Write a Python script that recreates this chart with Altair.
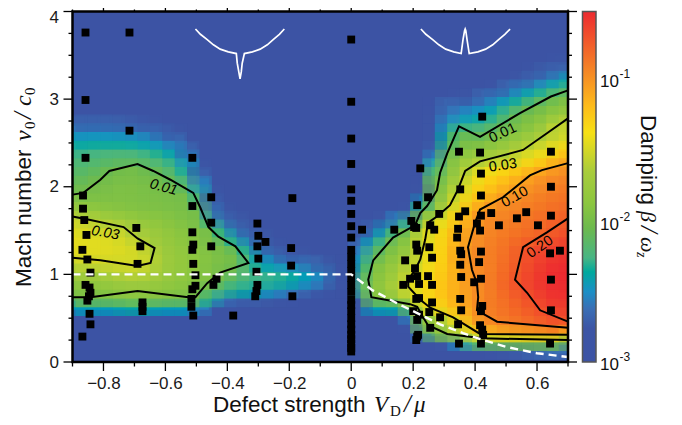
import altair as alt
import pandas as pd

# ---------- damping grid: level v means beta = 1e-3 * 10^(v/100) ----------
# rows keyed by Mach number (cell centre); left parts start at V=-0.9, right parts end at V=0.7
left_rows = {
0.65: [55,55,55,55,60,62,60,55,55,55,45],
0.75: [100,100,98,100,104,108,106,102,100,100,92,65,40,30,28,28,25,22],
0.85: [108,108,110,112,115,118,115,112,110,108,102,85,72,65,60,58,50,45,38,30,22],
0.95: [118,118,120,122,126,128,125,120,115,112,108,102,88,78,72,70,68,65,58,50,42,25],
1.05: [130,130,132,136,140,142,138,128,120,115,112,108,102,90,78,72,70,68,62,55,45,25],
1.15: [142,144,146,148,150,150,145,130,122,118,112,106,100,98,75,62,55,50,45,38,25],
1.25: [153,153,153,153,152,151,146,132,122,118,112,108,104,100,72,55,40,25,20],
1.35: [157,157,156,155,153,150,140,128,120,115,110,106,100,88,60,35,20],
1.45: [157,156,155,153,150,142,132,124,118,112,108,102,85,60,40,25],
1.55: [154,152,150,148,144,135,126,120,114,110,106,100,65,40,25],
1.65: [148,146,142,136,130,124,118,114,110,106,102,70,40,25],
1.75: [130,126,122,118,116,112,110,108,106,103,100,45,20],
1.85: [115,112,110,108,107,106,105,104,103,102,85,30],
1.95: [100,103,104,105,106,105,104,103,102,100,70,20],
2.05: [93,98,102,104,106,105,103,100,97,85,50],
2.15: [88,92,96,100,103,102,100,95,88,72,35],
2.25: [83,86,90,95,100,100,93,88,78,60,22],
2.35: [78,80,82,85,87,86,82,75,68,48],
2.45: [70,72,74,76,76,74,70,65,55,30],
2.55: [60,62,62,62,62,60,56,50,40],
2.65: [48,50,50,50,48,46,42,30,20],
2.75: [30,30,30,30,28,26,22],
}
right_rows = {
0.15: [20,25,28,32,35,38],
0.25: [25,50,75,90,92,94,95,96,98,100],
0.35: [40,92,108,128,148,160,165,168,170,172,172,174],
0.45: [20,100,118,135,148,172,190,202,208,212,216,220,226],
0.55: [45,108,132,146,165,195,206,212,218,222,228,234,238],
0.65: [20,55,58,60,98,146,158,170,182,195,208,214,220,226,232,238,242],
0.75: [25,100,104,110,135,158,168,178,190,198,210,216,222,230,236,242,246],
0.85: [10,70,108,118,135,152,162,172,180,190,198,208,216,226,234,240,245,248],
0.95: [15,75,110,120,138,150,160,170,180,190,200,208,218,228,236,242,247,249],
1.05: [15,70,105,116,130,146,158,168,178,190,201,208,216,226,235,241,246,249],
1.15: [10,60,100,112,125,140,155,166,176,190,202,208,214,224,232,240,245,248],
1.25: [50,85,104,116,130,150,164,175,195,203,208,214,222,231,238,243,246],
1.35: [40,70,95,108,122,148,162,175,192,202,208,214,220,230,236,240,243],
1.45: [30,55,80,102,112,148,160,172,188,198,206,212,218,224,228,232,238],
1.55: [20,30,55,85,98,145,158,170,186,198,204,210,214,218,222,226,232],
1.65: [25,45,70,105,148,162,178,192,202,208,212,216,220,224,229],
1.75: [20,95,125,150,168,190,201,205,208,212,216,220,224],
1.85: [55,105,135,158,178,190,200,204,208,212,216,220],
1.95: [25,98,125,150,168,180,190,198,203,208,212,216],
2.05: [10,95,115,142,160,172,180,188,195,202,206,212],
2.15: [88,108,135,152,165,172,180,188,196,202,206],
2.25: [72,102,125,144,155,162,168,176,184,192,199],
2.35: [50,98,115,130,136,142,145,155,165,175,186],
2.45: [30,85,108,115,120,130,135,148,152,160,170],
2.55: [25,65,105,100,105,112,120,128,138,147,155],
2.65: [22,60,100,88,90,97,108,115,125,135,144],
2.75: [20,50,70,70,75,85,95,105,112,128,146],
2.85: [20,42,50,55,60,70,85,100,105,112,125],
2.95: [15,35,40,45,50,58,72,85,95,102,112],
3.05: [20,22,35,45,55,65,78,88,100],
3.15: [22,35,48,58,68,80],
3.25: [25,38,48,58],
3.35: [20,28,38],
3.45: [20],
}

# ---------- measured points ----------
zero_column_y = [3.68,2.97,2.55,2.26,1.97,1.84,1.69,1.55,1.42,1.28,1.20,1.12,1.04,0.96,0.88,0.80,0.71,0.65,0.58,0.50,0.43,0.37,0.31,0.26,0.21,0.16,0.12]
point_x = [-0.858,-0.716,-0.858,-0.716,-0.858,-0.513,
 -0.866,-0.866,-0.862,-0.855,-0.868,-0.852,-0.842,-0.858,-0.845,-0.842,-0.847,-0.852,-0.845,-0.842,-0.868,
 -0.694,-0.681,-0.69,-0.674,-0.674,-0.674,
 -0.513,-0.513,-0.51,-0.513,-0.51,-0.503,-0.503,-0.513,-0.516,-0.516,-0.51,
 -0.452,-0.452,-0.452,-0.435,-0.445,-0.381,
 -0.303,-0.30,-0.277,-0.303,-0.30,-0.306,-0.303,-0.306,-0.31,
 -0.19,-0.194,-0.194,-0.19,
 0.423,0.348,0.416,0.645,0.223,0.419,0.352,0.645,
 0.035,0.139,0.248,0.213,0.194,0.203,0.21,0.21,0.213,0.174,0.206,0.213,0.19,0.168,0.219,0.21,0.219,0.2,0.219,0.213,0.216,0.213,0.21,
 0.284,0.255,0.268,0.252,0.261,0.248,0.261,0.261,0.252,0.287,0.255,
 0.368,0.348,0.345,0.342,0.352,0.355,0.352,0.355,0.352,0.355,0.345,0.348,
 0.419,0.452,0.419,0.406,0.416,0.477,0.419,0.413,0.419,0.397,0.423,0.419,0.416,0.423,0.426,0.419,
 0.535,0.565,0.603,0.645,0.642,0.674,0.645,0.645,0.642]
point_y = [3.76,3.76,2.99,2.64,2.33,2.33,
 1.90,1.75,1.62,1.45,1.28,1.17,1.02,0.88,0.85,0.79,0.75,0.70,0.55,0.43,0.29,
 1.53,1.32,1.12,0.68,0.63,0.58,
 1.78,1.48,1.34,1.28,1.12,0.99,0.87,0.83,0.72,0.63,0.53,
 1.88,1.59,1.32,0.95,0.88,0.53,
 1.58,1.44,1.37,1.32,1.18,1.03,0.88,0.81,0.75,
 1.87,1.30,1.10,0.75,
 2.80,2.40,2.39,2.40,2.21,2.15,1.97,2.00,
 1.51,1.51,1.88,1.79,1.61,1.54,1.53,1.34,1.27,1.16,1.07,0.98,0.95,0.88,0.89,0.72,0.73,0.58,0.54,0.48,0.31,0.29,0.25,
 1.69,1.56,1.51,1.31,1.19,0.98,0.88,0.68,0.57,0.51,0.39,
 1.72,1.66,1.52,1.42,1.27,1.23,1.11,0.97,0.72,0.59,0.43,0.21,
 1.90,1.70,1.67,1.58,1.50,1.56,1.26,1.14,0.95,0.91,0.64,0.58,0.42,0.37,0.31,0.21,
 1.64,1.71,1.56,1.67,1.24,1.27,0.94,0.59,0.21]

# ---------- contours ----------
contours = {
"a": [(-0.9,1.91),(-0.865,1.93),(-0.81,2.08),(-0.781,2.18),(-0.69,2.26),(-0.639,2.18),(-0.584,2.08),(-0.51,1.93),(-0.487,1.76),(-0.461,1.54),(-0.429,1.43),(-0.374,1.32),(-0.332,1.13),(-0.423,1.02),(-0.465,0.90),(-0.503,0.74),(-0.526,0.74),(-0.69,0.81),(-0.842,0.74),(-0.9,0.74)],
"b": [(-0.9,1.66),(-0.842,1.62),(-0.735,1.54),(-0.69,1.41),(-0.635,1.30),(-0.648,1.13),(-0.69,1.096),(-0.81,1.16),(-0.9,1.19)],
"c": [(0.70,3.10),(0.645,3.03),(0.545,2.84),(0.416,2.57),(0.348,2.69),(0.31,2.38),(0.287,2.16),(0.277,1.96),(0.245,1.78),(0.223,1.70),(0.206,1.56),(0.135,1.42),(0.071,1.16),(0.055,0.94),(0.065,0.74),(0.19,0.66),(0.213,0.63),(0.232,0.51),(0.248,0.42),(0.31,0.32),(0.423,0.27),(0.70,0.25)],
"d": [(0.70,2.78),(0.632,2.61),(0.555,2.42),(0.416,2.29),(0.368,2.18),(0.345,1.97),(0.319,1.79),(0.277,1.66),(0.248,1.59),(0.239,1.40),(0.223,1.17),(0.206,1.05),(0.184,0.94),(0.184,0.86),(0.223,0.71),(0.255,0.62),(0.329,0.51),(0.416,0.32),(0.70,0.31)],
"e": [(0.70,2.27),(0.616,2.19),(0.577,2.13),(0.49,1.88),(0.416,1.74),(0.40,1.59),(0.377,1.31),(0.39,1.05),(0.406,0.90),(0.41,0.74),(0.406,0.59),(0.471,0.46),(0.70,0.39)],
"f": [(0.70,1.64),(0.632,1.48),(0.555,1.31),(0.529,0.94),(0.568,0.79),(0.61,0.59),(0.70,0.46)],
}
label_text = ["0.01","0.03","0.01","0.03","0.10","0.20"]
label_x = [-0.606,-0.794,0.49,0.49,0.529,0.61]
label_y = [1.99,1.47,2.61,2.24,1.88,1.31]
label_angle = [15,10,335,352,330,325]
label_style = ["italic","italic","normal","normal","normal","normal"]

dash_x = [-0.9,0,0.068,0.148,0.223,0.287,0.361,0.426,0.503,0.6,0.70]
dash_y = [1,1,0.82,0.67,0.54,0.43,0.33,0.25,0.17,0.10,0.057]

inset_left_x = [-0.503,-0.487,-0.465,-0.445,-0.423,-0.397,-0.371,-0.368,-0.363,-0.359,-0.355,-0.352,-0.345,-0.319,-0.294,-0.271,-0.252,-0.232,-0.216]
inset_left_y = [3.80,3.74,3.68,3.62,3.57,3.54,3.52,3.41,3.31,3.23,3.31,3.41,3.52,3.54,3.57,3.62,3.68,3.74,3.80]
inset_right_x = [0.225,0.241,0.263,0.283,0.305,0.331,0.355,0.361,0.366,0.368,0.370,0.374,0.381,0.409,0.434,0.457,0.476,0.496,0.513]
inset_right_y = [3.80,3.74,3.68,3.62,3.57,3.54,3.52,3.68,3.78,3.80,3.78,3.68,3.52,3.54,3.57,3.62,3.68,3.74,3.80]

x_major = [-0.8,-0.6,-0.4,-0.2,0,0.2,0.4,0.6]
x_minor = [-0.9,-0.7,-0.5,-0.3,-0.1,0.1,0.3,0.5,0.7]
y_major = [0,1,2,3,4]
y_minor = [0.25,0.5,0.75,1.25,1.5,1.75,2.25,2.5,2.75,3.25,3.5,3.75]

color_levels = [0,24,38,50,64,74,95,113,135,163,182,205,249]
color_values = ["#3c53a4","#3c55a5","#3a6fb5","#1b8fc6","#00a99d","#48b584","#6cb94e","#8cc63f","#a8cc3c","#f7e014","#fdbb1a","#f58a25","#ed2a30"]

W, H = 495.5, 350.5
OX, OY = 72.5, 11.5
SANS = "Liberation Sans"
SERIF = "Liberation Serif"

cells = []
for y, vals in left_rows.items():
    for i, v in enumerate(vals):
        cells.append(dict(x0=-0.9+0.04*i, x1=-0.86+0.04*i, y0=y-0.05, y1=y+0.05, v=v))
for y, vals in right_rows.items():
    for i, v in enumerate(vals):
        j = 40-len(vals)+i
        cells.append(dict(x0=-0.9+0.04*j, x1=-0.86+0.04*j, y0=y-0.05, y1=y+0.05, v=v))
cells = pd.DataFrame(cells)

xs = alt.Scale(domain=[-0.9,0.7], nice=False, zero=False)
ys = alt.Scale(domain=[0,4], nice=False, zero=False)
cs = alt.Scale(domain=color_levels, range=color_values)

x_axis = alt.Axis(values=x_major, title=None, domain=False, grid=False, ticks=False, tickSize=0,
    labelExpr="abs(datum.value)<0.001?'0':format(datum.value,'.1f')",
    labelFont=SANS, labelFontSize=17, labelColor="#1a1a1a", labelPadding=13, labelFlush=False, labelOverlap=False)
y_axis = alt.Axis(values=[0,1,2,3], title=None, domain=False, grid=False, ticks=False, tickSize=0,
    labelExpr="format(datum.value,'d')",
    labelFont=SANS, labelFontSize=17, labelColor="#1a1a1a", labelPadding=14, labelFlush=False, labelOverlap=False)

heat = alt.Chart(cells).mark_rect(strokeWidth=0.6).encode(
    x=alt.X("x0:Q", scale=xs, axis=x_axis), x2="x1:Q",
    y=alt.Y("y0:Q", scale=ys, axis=y_axis), y2="y1:Q",
    fill=alt.Fill("v:Q", scale=cs, legend=None),
    stroke=alt.Stroke("v:Q", scale=cs, legend=None))

# a half-transparent, slightly larger second pass softens the cell edges, as the reference image's resampling does
soft = alt.Chart(cells).transform_calculate(
    a="datum.x0-0.03", b="datum.x1+0.01", c="datum.y0-0.075", d="datum.y1+0.025"
).mark_rect(opacity=0.5, clip=True).encode(
    x=alt.X("a:Q", scale=xs, title=None), x2="b:Q",
    y=alt.Y("c:Q", scale=ys, title=None), y2="d:Q",
    fill=alt.Fill("v:Q", scale=cs, legend=None))

X = alt.X("x:Q", scale=xs, title=None)
Y = alt.Y("y:Q", scale=ys, title=None)

line_rows = [dict(k=k, n=n, x=p[0], y=p[1]) for k, pts in contours.items() for n, p in enumerate(pts)]
lines = alt.Chart(pd.DataFrame(line_rows)).mark_line(color="black", strokeWidth=2, strokeJoin="miter").encode(
    x=X, y=Y, detail="k:N", order="n:Q")

label_layers = [
    alt.Chart(pd.DataFrame({"x":[label_x[i]],"y":[label_y[i]]})).mark_text(
        text=label_text[i], font=SANS, fontSize=14.5, fontStyle=label_style[i], angle=label_angle[i],
        color="black", baseline="middle", align="center").encode(x=X, y=Y)
    for i in range(len(label_text))]

points = alt.Chart(pd.DataFrame({"x":point_x+[0]*len(zero_column_y),"y":point_y+zero_column_y})).mark_square(size=62, color="black", opacity=1, filled=True).encode(x=X, y=Y)

dashes = alt.Chart(pd.DataFrame({"x":dash_x,"y":dash_y})).mark_line(color="white", strokeWidth=2.4, strokeDash=[8,5]).encode(x=X, y=Y, order=alt.Order("x:Q"))

def inset(xv, yv):
    df = pd.DataFrame({"x":xv,"y":yv,"n":list(range(len(xv)))})
    return alt.Chart(df).mark_line(color="white", strokeWidth=1.7).encode(x=X, y=Y, order="n:Q")

def v_ticks(vals, a, b):
    return alt.Chart(pd.DataFrame({"x":vals})).mark_rule(color="black", strokeWidth=1.3).encode(
        x=X, y=alt.value(a), y2=alt.value(b))
def h_ticks(vals, a, b):
    return alt.Chart(pd.DataFrame({"y":vals})).mark_rule(color="black", strokeWidth=1.3).encode(
        y=Y, x=alt.value(a), x2=alt.value(b))

frame = alt.Chart(pd.DataFrame({"a":[0]})).mark_rect(fill=None, fillOpacity=0, stroke="black", strokeWidth=2.5).encode(
    x=alt.value(0), x2=alt.value(W), y=alt.value(0), y2=alt.value(H))

bar_fill = alt.LinearGradient(gradient="linear", x1=0, x2=0, y1=1, y2=0,
    stops=[alt.GradientStop(offset=l/color_levels[-1], color=c) for l, c in zip(color_levels, color_values)])
colorbar = alt.Chart(pd.DataFrame({"a":[0]})).mark_rect(fill=bar_fill, stroke="#555555", strokeWidth=1.5).encode(
    x=alt.value(510), x2=alt.value(523.5), y=alt.value(0), y2=alt.value(H))

def txt(s, px, py, font=SANS, size=22.5, angle=0, style="normal", color="#111111"):
    return alt.Chart(pd.DataFrame({"a":[0]})).mark_text(text=s, font=font, fontSize=size, angle=angle, fontStyle=style,
        align="left", baseline="alphabetic", color=color).encode(x=alt.value(px-OX), y=alt.value(py-OY))

texts = [
    txt("4", 49.5, 23, size=17, color="#1a1a1a"),
    txt("Defect strength", 213, 412),
    txt("V", 374, 412, SERIF, 23, style="italic"),
    txt("D", 390, 415.5, SERIF, 15),
    txt("/", 404, 412, SERIF, 25, style="italic"),
    txt("μ", 414, 412, SERIF, 23, style="italic"),
    txt("Mach number", 31, 287, angle=270),
    txt("v", 31, 141, SERIF, 24, 270, "italic"),
    txt("0", 35, 129, SERIF, 15, 270),
    txt("/", 31, 119, SERIF, 25, 270, "italic"),
    txt("c", 31, 106, SERIF, 24, 270, "italic"),
    txt("0", 35, 95, SERIF, 15, 270),
    txt("Damping", 641, 115, angle=90),
    txt("β", 641, 211, SERIF, 22, 90, "italic"),
    txt("/", 641, 226, SERIF, 25, 90, "italic"),
    txt("ω", 641, 237, SERIF, 22, 90, "italic"),
    txt("z", 637, 252, SERIF, 14, 90, "italic"),
]
for exp, base in (("-1", 87), ("-2", 230), ("-3", 370)):
    texts.append(txt("10", 600, base, size=17))
    texts.append(txt(exp, 619.5, base-9, size=12))

chart = alt.layer(
    heat, soft, lines, *label_layers, points, dashes,
    inset(inset_left_x, inset_left_y), inset(inset_right_x, inset_right_y),
    v_ticks(x_major, -3.5, 0), v_ticks(x_minor, -2, 0),
    v_ticks(x_major, H, H+9), v_ticks(x_minor, H, H+4.5),
    h_ticks(y_major, -9, 0), h_ticks(y_minor, -4, 0),
    h_ticks(y_major, W, W+9), h_ticks(y_minor, W, W+4),
    frame, colorbar, *texts
).properties(
    width=W, height=H, autosize=alt.AutoSizeParams(type="none"),
    padding={"left":OX-8,"top":OY-8,"right":666-(OX-8)-W,"bottom":55},
).configure_view(fill="#3c53a4", stroke=None)

chart.save("out.html", embed_options={"renderer": "svg", "actions": False})
